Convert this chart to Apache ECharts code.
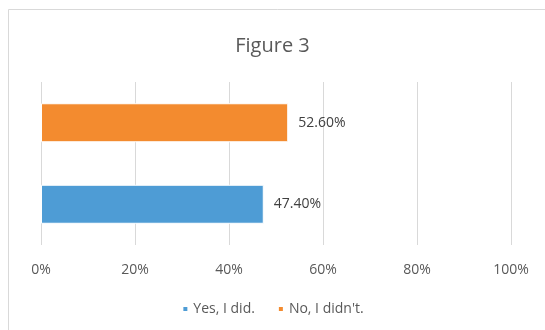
<!DOCTYPE html>
<html><head><meta charset="utf-8">
<script src="https://cdn.jsdelivr.net/npm/echarts@6/dist/echarts.min.js"></script>
<style>html,body{margin:0;padding:0;background:#fff}#c{width:545px;height:330px}</style>
</head><body><div id="c"></div>
<script>
const categories = ["Yes, I did.", "No, I didn't."];
const yesValues = [47.4, null];
const noValues = [null, 52.6];
const xTicks = [0, 20, 40, 60, 80, 100];

const FONT = '"Open Sans", "Liberation Sans", sans-serif';
const chart = echarts.init(document.getElementById('c'), null, {renderer: 'canvas'});
chart.setOption({
  animation: false,
  backgroundColor: '#fff',
  graphic: [{type: 'rect', shape: {x: 8.5, y: 9.5, width: 600, height: 400}, style: {fill: 'none', stroke: '#d9d9d9', lineWidth: 1}}],
  title: {text: 'Figure 3', left: 'center', top: 31, textStyle: {fontFamily: FONT, fontSize: 20, fontWeight: 'normal', color: '#595959'}},
  legend: {bottom: 9, left: 'center', icon: 'rect', itemWidth: 6, itemHeight: 6, itemGap: 22,
    textStyle: {fontFamily: FONT, fontSize: 14, color: '#595959'}, data: categories},
  grid: {left: 41, right: 34, top: 82, bottom: 85, containLabel: false},
  xAxis: {type: 'value', min: xTicks[0], max: xTicks[xTicks.length - 1], interval: 20,
    axisLine: {show: false}, axisTick: {show: false},
    splitLine: {lineStyle: {color: '#d9d9d9', width: 1}},
    axisLabel: {formatter: v => v + '%', margin: 18, fontFamily: FONT, fontSize: 14, color: '#595959'}},
  yAxis: {type: 'category', data: categories, axisLine: {show: false}, axisTick: {show: false}, axisLabel: {show: false}},
  series: [
    {name: categories[0], type: 'bar', stack: 't', data: yesValues, barWidth: 39,
      itemStyle: {color: '#4e9cd5', borderColor: '#fff', borderWidth: 1},
      label: {show: true, position: 'right', distance: 10, formatter: p => p.value.toFixed(2) + '%', fontFamily: FONT, fontSize: 14, color: '#404040'}},
    {name: categories[1], type: 'bar', stack: 't', data: noValues, barWidth: 39,
      itemStyle: {color: '#f38b2f', borderColor: '#fff', borderWidth: 1},
      label: {show: true, position: 'right', distance: 10, formatter: p => p.value.toFixed(2) + '%', fontFamily: FONT, fontSize: 14, color: '#404040'}}
  ]
});
</script></body></html>
